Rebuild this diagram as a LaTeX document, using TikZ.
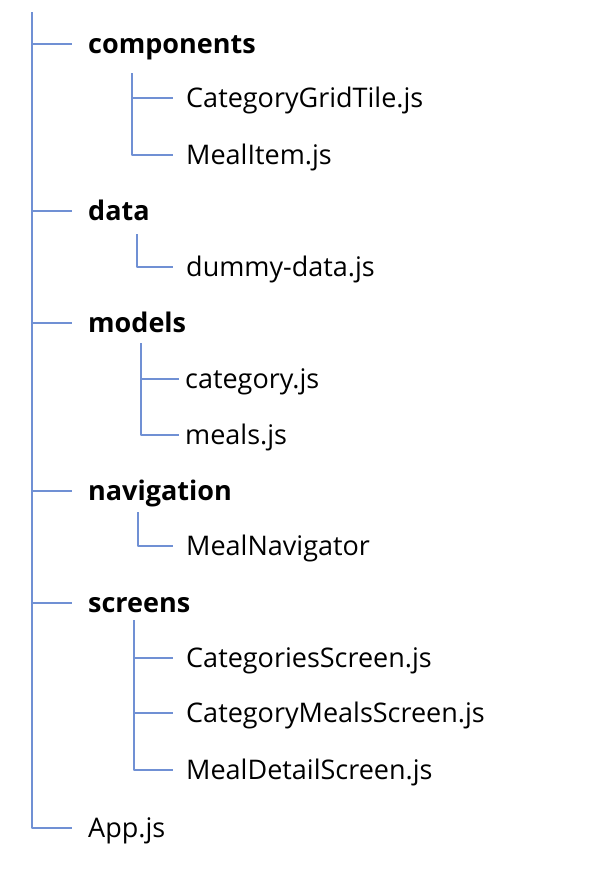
\documentclass[tikz,border=0pt]{standalone}
\usepackage{fontspec}
\setmainfont{Open Sans}
\usetikzlibrary{positioning}
\definecolor{treeblue}{RGB}{112,144,212}
\begin{document}
\begin{tikzpicture}[x=1pt, y=-1pt, line join=round, font=\fontsize{27}{30}\selectfont]
	\tikzset{
		item/.style={anchor=west, text height=24pt, text depth=6pt, inner xsep=13pt, inner ysep=0pt},
		dir/.style={item, inner xsep=16pt, font=\fontsize{27}{30}\selectfont\bfseries},
		branch/.style={treeblue, line width=1.6pt}
	}
	\useasboundingbox (0,0) rectangle (600,876);
	% top level
	\coordinate (top) at (32,12);
	\node[dir] (comp) at (72,44) {components};
	\node[dir] (data) at (72,211) {data};
	\node[dir] (models) at (72,323) {models};
	\node[dir] (nav) at (72,491) {navigation};
	\node[dir] (screens) at (72,603) {screens};
	\node[item, inner xsep=16pt] (app) at (72,828) {App.js};
	\draw[branch] (top) |- (app.west);
	\foreach \n in {comp, data, models, nav, screens}{
		\draw[branch] (top |- \n.west) -- (\n.west);
	}
	% components
	\coordinate (ctop) at (132,73);
	\node[item] (grid) at (173,98) {CategoryGridTile.js};
	\node[item] (mealitem) at (173,155) {MealItem.js};
	\draw[branch] (ctop) |- (mealitem.west);
	\draw[branch] (ctop |- grid.west) -- (grid.west);
	% data
	\coordinate (dtop) at (137,234);
	\node[item] (dummy) at (173,267) {dummy-data.js};
	\draw[branch] (dtop) |- (dummy.west);
	% models
	\coordinate (mtop) at (141,343);
	\node[item, inner xsep=6pt] (category) at (179,379) {category.js};
	\node[item, inner xsep=6pt] (meals) at (179,435) {meals.js};
	\draw[branch] (mtop) |- (meals.west);
	\draw[branch] (mtop |- category.west) -- (category.west);
	% navigation
	\coordinate (ntop) at (138,512);
	\node[item] (navigator) at (173,546) {MealNavigator};
	\draw[branch] (ntop) |- (navigator.west);
	% screens
	\coordinate (stop) at (134,620);
	\node[item] (catscreen) at (173,658) {CategoriesScreen.js};
	\node[item] (catmeals) at (173,713) {CategoryMealsScreen.js};
	\node[item] (detail) at (173,770) {MealDetailScreen.js};
	\draw[branch] (stop) |- (detail.west);
	\foreach \n in {catscreen, catmeals}{
		\draw[branch] (stop |- \n.west) -- (\n.west);
	}
\end{tikzpicture}
\end{document}
